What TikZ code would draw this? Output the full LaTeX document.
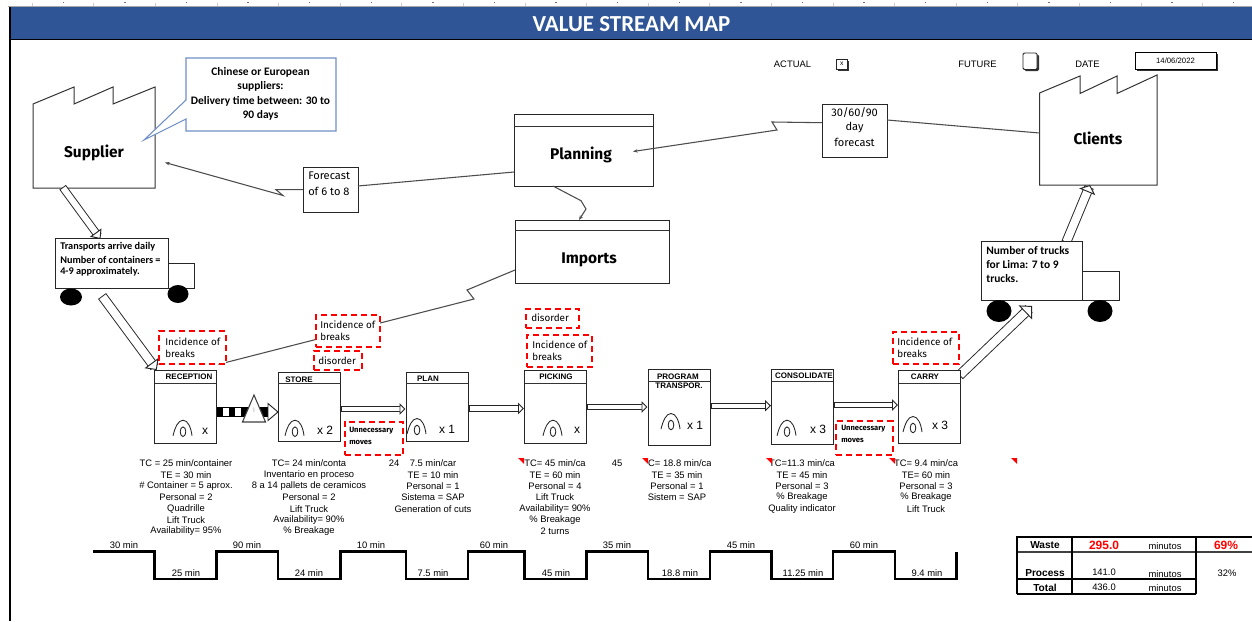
\documentclass[tikz,border=0pt]{standalone}
\usepackage{fontspec}
\usetikzlibrary{arrows.meta,calc}
\setmainfont{Liberation Sans}
\newfontfamily\comicf{Fira Sans}
\newfontfamily\calibf{Carlito}
\newcommand{\bx}[6]{%
  \pgfmathsetmacro\bxcx{(#2+#4)/2}\pgfmathsetmacro\bxcy{(#3+#5)/2}%
  \node[#6,inner sep=0pt,outer sep=0pt,minimum width={(#4-#2)*0.75pt},minimum height={(#5-#3)*0.75pt}] (#1) at (\bxcx,\bxcy) {};}
\definecolor{titleblue}{HTML}{2F5597}
\definecolor{calloutblue}{HTML}{6F8FC4}
\tikzset{
  lin/.style={draw=black!80,line width=0.75pt},
  conn/.style={draw=black!70,line width=0.8pt},
  tipped/.style={conn,-{Stealth[length=3.5pt,width=2.6pt]}},
  plain/.style={draw=black!85,fill=white,line width=0.75pt},
  redbox/.style={draw=red,fill=white,line width=1.5pt,dash pattern=on 4.5pt off 3pt},
  hollow/.style n args={3}{draw=black!85,line width=0.7pt,double=white,double distance=#1,line cap=rect,
     -{Triangle[fill=white,line width=0.7pt,length=#2,width=#3]}},
  tx/.style={inner sep=0pt,font=\fontsize{7.05}{8}\selectfont},
  bold7/.style={inner sep=0pt,font=\fontsize{6}{7}\selectfont\bfseries},
  big/.style={inner sep=0pt,font=\fontsize{11.6}{13}\selectfont\comicf\bfseries},
  cmt/.style={inner sep=0pt,font=\fontsize{7.4}{9}\selectfont\comicf},
  cmw/.style={cmt,anchor=west},
  cml/.style={inner sep=0pt,font=\fontsize{8.3}{10}\selectfont\comicf},
  cmb/.style={inner sep=0pt,anchor=west,font=\fontsize{5.7}{6}\selectfont\comicf\bfseries},
  cal/.style={inner sep=0pt,font=\fontsize{8.6}{10}\selectfont\calibf\bfseries},
  calw/.style={inner sep=0pt,anchor=west,font=\fontsize{7.7}{10}\selectfont\calibf\bfseries},
  big2/.style={inner sep=0pt,font=\fontsize{8.6}{10}\selectfont\calibf\bfseries,anchor=west},
  times/.style={inner sep=0pt,font=\fontsize{9}{10}\selectfont},
  timeline/.style={draw=black,line width=2.2pt,line join=miter},
  tbl/.style={draw=black,line width=1.5pt},
  tbold/.style={inner sep=0pt,font=\fontsize{7.6}{9}\selectfont\bfseries},
  tred/.style={tbold,text=red,font=\fontsize{9}{10}\selectfont\bfseries},
  oper/.pic={
    \draw[draw=black!85,line width=0.65pt] (-10,4) .. controls (-8,-4) and (-5,-11.5) .. (0,-11.5) .. controls (5,-11.5) and (8,-4) .. (9,4);
    \draw[draw=black!85,line width=0.65pt] (0,0) ellipse (2.8 and 4.8);
  },
  cmark/.pic={\fill[red] (0,0) -- (6,0) -- (6,6) -- cycle;}
}
\begin{document}
\begin{tikzpicture}[x=0.75pt,y=-0.75pt]
\useasboundingbox (0,0) rectangle (1252,621);
\fill[white] (0,0) rectangle (1252,621);
% ruler
\draw[black!35,line width=0.9pt] (8,6.3) -- (1252,6.3);
\foreach \k in {0,...,19} \draw[black!20,line width=0.4pt] ({32+\k*61.6},3) -- ({32+\k*61.6},6);
\foreach \k in {0,...,19} \fill[black!55] ({62.5+\k*61.6},2.2) rectangle ({64+\k*61.6},3.2);
% frame and title
\bx{title}{10}{7}{1252}{39.5}{fill=titleblue}
\node[inner sep=0pt,text=white,font=\fontsize{17.2}{19}\selectfont\calibf\bfseries] (titletext) at (631.5,24.5) {VALUE STREAM MAP};
\draw[black,line width=1.1pt] (title.south west) -- (title.south east);
\draw[black,line width=1.3pt] (title.north west) -- (10,621);
% header fields
\node[tx] (actual) at (792.5,64) {ACTUAL};
\bx{actshadow}{838}{60.5}{848.5}{70.5}{fill=black!80}
\bx{actbox}{836.5}{59}{847}{69}{draw=black!85,fill=white,line width=0.7pt}
\node[inner sep=0pt,font=\fontsize{5}{6}\selectfont] (actx) at (actbox) {x};
\node[tx] (future) at (977.5,64) {FUTURE};
\bx{futshadow}{1024.5}{54.5}{1039}{71}{fill=black!80,rounded corners=1pt}
\bx{futbox}{1023}{53}{1037}{69.5}{draw=black!85,fill=white,line width=0.7pt,rounded corners=1pt}
\node[tx] (date) at (1087.5,64) {DATE};
\bx{dateshadow}{1136.5}{53.5}{1217.5}{71}{fill=black!80}
\bx{datebox}{1135}{52}{1216}{69.5}{draw=black,fill=white,line width=0.7pt}
\node[inner sep=0pt,font=\fontsize{5.8}{7}\selectfont] (datetext) at (datebox) {14/06/2022};
% factories
\draw[lin] (33,104) -- (74,87) -- (74,104) -- (113,87) -- (113,104) -- (155,87) -- (155,188) -- (33,188) -- cycle;
\bx{supplier}{33}{104}{155}{188}{}
\node[big] (suppliertext) at (94,152.5) {Supplier};
\draw[lin] (1039.5,93) -- (1080,76) -- (1080,93.5) -- (1117,76) -- (1117,93.5) -- (1157,75) -- (1157,185) -- (1039.5,185) -- cycle;
\bx{clients}{1039.5}{93}{1157}{185}{}
\node[big] (clientstext) at (1098,138.5) {Clients};
% callout
\bx{callout}{186}{58}{336}{131}{}
\draw[calloutblue,fill=white,line width=0.8pt] (186,58) -- (336,58) -- (336,131) -- (186,131) -- (186,119) -- (144,140) -- (186,100) -- cycle;
\foreach \t [count=\i from 0] in {Chinese or European,suppliers:,Delivery time between: 30 to,90 days}
  \node[cal] (call\i) at (260.5,{72.5+\i*14.3}) {\t};
% planning, imports, small boxes
\bx{planning}{514}{114}{653}{186}{plain}
\draw[lin] (planning.west |- 0,126.5) -- (planning.east |- 0,126.5);
\node[big] (planningtext) at (581,154.5) {Planning};
\bx{imports}{515}{220}{669}{283}{plain}
\draw[lin] (imports.west |- 0,230) -- (imports.east |- 0,230);
\node[big] (importstext) at (589,259.5) {Imports};
\bx{forecast}{303}{167}{358}{212}{plain}
\node[cml,anchor=west] (fc1) at (308,176) {Forecast};
\node[cml,anchor=west] (fc2) at (308,191) {of 6 to 8};
\bx{day}{822}{104}{887}{157}{plain}
\foreach \t/\yy [count=\i] in {{30/60/90}/113,day/128,forecast/142}
  \node[cml] (dayt\i) at (854.5,\yy) {\t};
% information connectors
\draw[conn] (planning.west |- 0,172) -- (forecast.east |- 0,186);
\coordinate (suptip) at (165,162.5);
\draw[tipped] (forecast.west |- 0,189.7) -- (276,189.7) -- (283,195.5) -- (suptip);
\draw[conn] (clients.west |- 0,133) -- (day.east |- 0,120);
\coordinate (plantip) at (633,151.5);
\draw[tipped] (day.west |- 0,122.7) -- (772,122) -- (777,130) -- (plantip);
\draw[tipped] (553,186) -- (581,200.7) -- (586,209) -- (imports.north -| 579,0);
% hollow arrows that run under the trucks and boxes
\draw[hollow={4.6pt}{6pt}{10.5pt}] (supplier.south -| 65,0) ++(0,2.5) -- (100.5,239);
\draw[hollow={6pt}{6.5pt}{13pt}] (105,300) -- (156.7,370);
\draw[hollow={6pt}{5.5pt}{13pt}] (1068,238) -- (clients.south -| 1090,0);
\draw[hollow={6.2pt}{7pt}{14.5pt}] (963,372) -- (1032,306);
% trucks
\bx{cab1}{168}{263}{194}{288}{plain}
\bx{truck1}{55}{238}{168}{288}{plain}
\fill[black] (71,297) ellipse (11 and 8.5);
\fill[black] (178,294) ellipse (10.5 and 9);
\node[calw] (t11) at (60,247) {Transports arrive daily};
\node[calw] (t12) at (60,259.5) {Number of containers =};
\node[calw] (t13) at (60,272) {4-9 approximately.};
\bx{cab2}{1082}{271}{1119}{300}{plain}
\bx{truck2}{981.5}{241}{1082}{300}{plain}
\fill[black] (999,311) ellipse (12.5 and 11);
\fill[black] (1100,311) ellipse (12.5 and 11);
\node[big2] (t21) at (986,251) {Number of trucks};
\node[big2] (t22) at (986,265) {for Lima: 7 to 9};
\node[big2] (t23) at (986,279) {trucks.};
% process boxes
\foreach \n/\xa/\ya/\xb/\yb/\hy in {rec/154.5/370/216.5/443/383,sto/278/372.5/340.5/441/383.5,pla/406/372.5/468/441/383,pic/524.5/370/586.5/443/383,pro/648/369.5/710/445/381.5,con/771.5/369.5/833/444/381.5,car/898.5/370/960.5/443/383}{
  \bx{\n}{\xa}{\ya}{\xb}{\yb}{plain}
  \draw[lin] (\n.west |- 0,\hy) -- (\n.east |- 0,\hy);
}
\foreach \t/\xx/\yy [count=\i] in {RECEPTION/189/377,STORE/299/380,PLAN/428/379,PICKING/556/377,PROGRAM/678/377,TRANSPOR./679/386,CONSOLIDATE/804/376,CARRY/925/377}
  \node[bold7] (head\i) at (\xx,\yy) {\t};
\foreach \px/\py/\t/\tx/\ty [count=\i] in {183/431.7/x/205/431,295/431.7/x 2/325/430,417/430/x 1/447/429,553/431.7/x/577/430,671/425/x 1/695/425.5,787/431.7/x 3/818/429,913/428/x 3/940/425}{
  \pic at (\px,\py) {oper};
  \node[times] (mult\i) at (\tx,\ty) {\t};
}
% flow arrows
\foreach \a/\b/\yy in {sto/pla/409,pla/pic/408.5,pic/pro/407,pro/con/405.7,con/car/405}
  \draw[hollow={3.2pt}{4.5pt}{8.5pt}] ($(\a.east |- 0,\yy)+(4,0)$) -- ($(\b.west |- 0,\yy)+(-0.5,0)$);
% push arrow with inventory
\fill[black] (rec.east |- 0,407) rectangle (268,417);
\fill[white] (223,408) rectangle (229,416);
\fill[white] (235,408) rectangle (240.5,416);
\draw[draw=black!85,fill=white,line width=0.7pt] (268,403.5) -- (sto.west |- 0,412) -- (268,420.5) -- cycle;
\draw[draw=black!75,fill=white,line width=0.8pt] (254,395) -- (265.5,422) -- (242.5,422) -- cycle;
\node[inner sep=0pt,text=black!35,font=\fontsize{5}{6}\selectfont] (invI) at (254,410) {I};
% link through the kaizen bursts
\coordinate (linkend) at (218,364.5);
\draw[tipped] (imports.west |- 0,270) -- (467,290) -- (474,299) -- (linkend);
% red boxes
\bx{burst1}{159}{331}{225.5}{364}{redbox}
\node[cmw] (b11) at (165,341.5) {Incidence of};
\node[cmw] (b12) at (165,353.5) {breaks};
\bx{burst2}{315.5}{315}{380}{347}{redbox}
\node[cmw] (b21) at (320,325) {Incidence of};
\node[cmw] (b22) at (320,337) {breaks};
\bx{burst3}{313.5}{351}{362}{370}{redbox}
\node[cmw] (b31) at (318,361) {disorder};
\bx{burst4}{344.5}{421.5}{403}{455}{redbox}
\node[cmb] (b41) at (349,431) {Unnecessary};
\node[cmb] (b42) at (349,442) {moves};
\bx{burst5}{526}{309}{579}{328}{redbox}
\node[cmw] (b51) at (531,318) {disorder};
\bx{burst6}{527}{335}{592}{367}{redbox}
\node[cmw] (b61) at (532,345) {Incidence of};
\node[cmw] (b62) at (532,357) {breaks};
\bx{burst7}{836}{421}{892.5}{455}{redbox}
\node[cmb] (b71) at (841,429) {Unnecessary};
\node[cmb] (b72) at (841,440) {moves};
\bx{burst8}{893}{332}{959}{364}{redbox}
\node[cmw] (b81) at (897,342) {Incidence of};
\node[cmw] (b82) at (897,354) {breaks};
% data blocks
\foreach \t [count=\i from 0] in {TC = 25 min/container,TE = 30 min,\# Container = 5 aprox.,Personal = 2,Quadrille,Lift Truck,Availability= 95\%}
  \node[tx] (da\i) at (186,{463.5+\i*11.32}) {\t};
\foreach \t [count=\i from 0] in {TC= 24 min/conta,Inventario en proceso,8 a 14 pallets de ceramicos,Personal = 2,Lift Truck,Availability= 90\%,\% Breakage}
  \node[tx] (db\i) at (309,{463.5+\i*11.32}) {\t};
\node[tx] (n24) at (394,463.5) {24};
\foreach \t [count=\i from 0] in {7.5 min/car,TE = 10 min,Personal = 1,Sistema = SAP,Generation of cuts}
  \node[tx] (dc\i) at (433,{463.5+\i*11.32}) {\t};
\foreach \t [count=\i from 0] in {TC= 45 min/ca,TE = 60 min,Personal = 4,Lift Truck,Availability= 90\%,\% Breakage,2 turns}
  \node[tx] (dd\i) at (555,{463.5+\i*11.32}) {\t};
\node[tx] (n45) at (617,463.5) {45};
\begin{scope}
  \clip (647.5,455) rectangle (710,470);
  \node[tx] (de0) at (677,463.5) {TC= 18.8 min/ca};
\end{scope}
\foreach \t [count=\i from 1] in {TE = 35 min,Personal = 1,Sistem = SAP}
  \node[tx] (de\i) at (677,{463.5+\i*11.32}) {\t};
\foreach \t [count=\i from 0] in {TC=11.3 min/ca,TE = 45 min,Personal = 3,\% Breakage,Quality indicator}
  \node[tx] (df\i) at (802,{463.5+\i*11.32}) {\t};
\foreach \t [count=\i from 0] in {TC= 9.4 min/ca,TE= 60 min,Personal = 3,\% Breakage,Lift Truck}
  \node[tx] (dg\i) at (926,{463.5+\i*11.32}) {\t};
\foreach \xx in {518,642,766,889,1011} \pic at (\xx,458) {cmark};
% timeline
\draw[timeline] (93,551.7) -- (rec.west |- 0,551.7) -- (rec.west |- 0,579) -- (rec.east |- 0,579) -- (rec.east |- 0,551.7)
  -- (sto.west |- 0,551.7) -- (sto.west |- 0,579) -- (sto.east |- 0,579) -- (sto.east |- 0,551.7)
  -- (pla.west |- 0,551.7) -- (pla.west |- 0,579) -- (pla.east |- 0,579) -- (pla.east |- 0,551.7)
  -- (pic.west |- 0,551.7) -- (pic.west |- 0,579) -- (pic.east |- 0,579) -- (pic.east |- 0,551.7)
  -- (pro.west |- 0,551.7) -- (pro.west |- 0,579) -- (pro.east |- 0,579) -- (pro.east |- 0,551.7)
  -- (con.west |- 0,551.7) -- (con.west |- 0,579) -- (con.east |- 0,579) -- (con.east |- 0,551.7)
  -- (895,551.7) -- (895,579) -- (956.7,579) -- (956.7,551.7);
\foreach \t/\xx [count=\i] in {30 min/124,90 min/247,10 min/371,60 min/494,35 min/617,45 min/741,60 min/864}
  \node[tx] (hi\i) at (\xx,545) {\t};
\foreach \t/\xx [count=\i] in {25 min/186,24 min/309,7.5 min/433,45 min/556,18.8 min/680,11.25 min/803,9.4 min/927}
  \node[tx] (lo\i) at (\xx,573) {\t};
% table
\draw[tbl] (1017,536.7) -- (1252,536.7);
\draw[tbl,draw=black!75] (1017,551.7) -- (1252,551.7);
\draw[tbl] (1017,578.5) -- (1196,578.5);
\draw[tbl] (1017,593.5) -- (1196,593.5);
\draw[tbl] (1017,536) -- (1017,594.2);
\draw[tbl] (1072,536) -- (1072,594.2);
\draw[tbl] (1196,536) -- (1196,594.2);
\node[tbold] (wa) at (1045,545) {Waste};
\node[tred] (wb) at (1104,545) {295.0};
\node[tx] (wc) at (1165,546) {minutos};
\node[tred] (wd) at (1226,545) {69\%};
\node[tbold] (pa) at (1045,573.5) {Process};
\node[tx] (pb) at (1104,572) {141.0};
\node[tx] (pc) at (1165,574) {minutos};
\node[tx] (pd) at (1227,573) {32\%};
\node[tbold] (ta) at (1045,588) {Total};
\node[tx] (tb) at (1104,587.5) {436.0};
\node[tx] (tc) at (1165,588) {minutos};
\end{tikzpicture}
\end{document}
